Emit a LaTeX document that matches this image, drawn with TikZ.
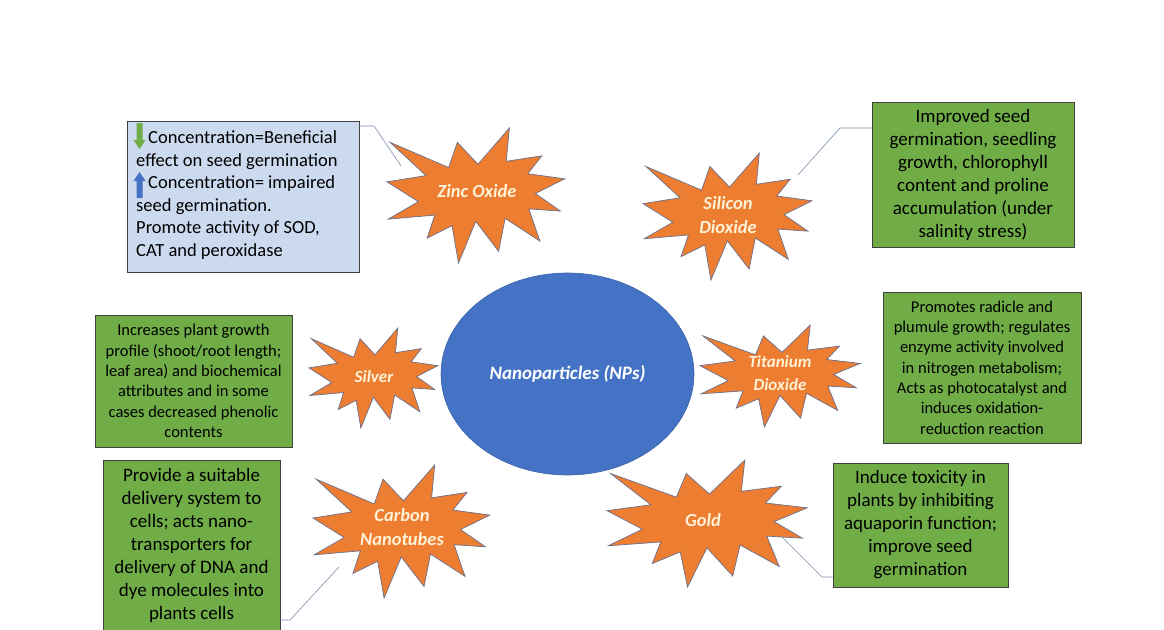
\documentclass[tikz,border=0pt]{standalone}
\usepackage{fontspec}
\setmainfont{Carlito}
\usetikzlibrary{shapes.geometric}
\definecolor{orng}{HTML}{ED7D31}
\definecolor{sealedge}{HTML}{6A6F8E}
\definecolor{grn}{HTML}{70AD47}
\definecolor{boxedge}{HTML}{3F3F3F}
\definecolor{lblue}{HTML}{CCDAEF}
\definecolor{npblue}{HTML}{4472C4}
\definecolor{npedge}{HTML}{3A62A8}
\definecolor{cream}{HTML}{FFF2D6}
\definecolor{linkc}{HTML}{7A8DB0}
\newcommand{\sealshape}[5]{%
  \begin{scope}[shift={(#2,#3)}, x=#4pt, y=-#5pt]
    \draw[seal] (0.5000,0.2685) -- (0.6723,0) -- (0.6553,0.2465) -- (0.8509,0.2063)
      -- (0.7732,0.3387) -- (0.9767,0.3767) -- (0.8151,0.4850) -- (0.9529,0.6153)
      -- (0.7795,0.5992) -- (0.8400,0.8377) -- (0.6491,0.6693) -- (0.6133,0.9137)
      -- (0.4876,0.6914) -- (0.3928,1.0000) -- (0.3572,0.7235) -- (0.2205,0.8156)
      -- (0.2624,0.6452) -- (0.0063,0.6753) -- (0.1723,0.5451) -- (0,0.3988)
      -- (0.2142,0.3526) -- (0.0171,0.1063) -- (0.3385,0.2926) -- (0.3867,0.1063)
      -- cycle;
    \coordinate (#1) at (0.5,0.5);
  \end{scope}}
\begin{document}
\begin{tikzpicture}[x=1pt,y=-1pt,
  seal/.style={fill=orng, draw=sealedge, line width=0.7pt, line join=miter},
  gbox/.style={draw=boxedge, fill=grn, line width=0.9pt, inner sep=0pt, align=center, text=black},
  bigtxt/.style={font=\fontsize{19}{23}\selectfont},
  smalltxt/.style={font=\fontsize{16.5}{20.3}\selectfont},
  lbl/.style={text=cream, font=\fontsize{18.5}{23.5}\selectfont\bfseries\itshape, align=center, inner sep=0pt},
  link/.style={draw=linkc, line width=0.6pt}]
\useasboundingbox (0,0) rectangle (1164,629);

% central ellipse
\node (np) [ellipse, fill=npblue, draw=npedge, line width=0.6pt, minimum width=253pt, minimum height=202pt, inner sep=0pt,
  text=white, font=\fontsize{19}{23}\selectfont\bfseries\itshape] at (567.5,374) {Nanoparticles (NPs)};

% stars
\sealshape{zincc}{387}{128}{182}{135}
\sealshape{silc}{643}{153}{173}{127}
\sealshape{silvc}{309}{328}{132}{100}
\sealshape{tic}{700}{325}{164}{102}
\sealshape{cntc}{313}{465}{181}{133}
\sealshape{goldc}{607}{460}{205}{127}

\node (zinc) [lbl] at (477,191) {Zinc Oxide};
\node (sil) [lbl] at (728,215) {Silicon\\Dioxide};
\node (silv) [lbl, font=\fontsize{17}{21}\selectfont\bfseries\itshape] at (374,377) {Silver};
\node (ti) [lbl, font=\fontsize{17}{22.5}\selectfont\bfseries\itshape] at (780,373) {Titanium\\Dioxide};
\node (cnt) [lbl] at (402,527) {Carbon\\Nanotubes};
\node (gold) [lbl] at (703,520) {Gold};

% zinc box
\node (zincbox) [draw=boxedge, fill=lblue, line width=0.9pt, minimum width=232pt, minimum height=151pt, inner sep=0pt] at (243,196.5) {};
\node (zinctxt) [anchor=west, align=left, inner sep=0pt, font=\fontsize{18.5}{22.5}\selectfont] at (136,195)
  {\hspace*{12pt}Concentration=Beneficial\\effect on seed germination\\\hspace*{12pt}Concentration= impaired\\seed germination.\\Promote activity of SOD,\\CAT and peroxidase};
\fill[grn] (136.5,123) -- (142.5,123) -- (142.5,140) -- (145.5,140) -- (139.5,149) -- (133.5,140) -- (136.5,140) -- cycle;
\fill[npblue] (136.5,198) -- (142.5,198) -- (142.5,181) -- (145.5,181) -- (139.5,172) -- (133.5,181) -- (136.5,181) -- cycle;

% green boxes
\node (silbox) [gbox, bigtxt, minimum width=202pt, minimum height=145pt] at (973,174.5)
  {Improved seed\\germination, seedling\\growth, chlorophyll\\content and proline\\accumulation (under\\salinity stress)};
\node (silvbox) [gbox, smalltxt, minimum width=197pt, minimum height=132pt] at (193.5,381)
  {Increases plant growth\\profile (shoot/root length;\\leaf area) and biochemical\\attributes and in some\\cases decreased phenolic\\contents};
\node (tibox) [gbox, smalltxt, minimum width=198pt, minimum height=151pt] at (982,367.5)
  {Promotes radicle and\\plumule growth; regulates\\enzyme activity involved\\in nitrogen metabolism;\\Acts as photocatalyst and\\induces oxidation-\\reduction reaction};
\node (cntbox) [gbox, bigtxt, minimum width=177pt, minimum height=170pt] at (191.5,545)
  {Provide a suitable\\delivery system to\\cells; acts nano-\\transporters for\\delivery of DNA and\\dye molecules into\\plants cells};
\node (goldbox) [gbox, bigtxt, minimum width=175pt, minimum height=124pt] at (920.5,525)
  {Induce toxicity in\\plants by inhibiting\\aquaporin function;\\improve seed\\germination};

% connectors
\coordinate (z1) at (374,126);
\coordinate (z2) at (401,166);
\draw[link] (zincbox.east |- z1) -- (z1) -- (z2);
\coordinate (s1) at (840,128);
\coordinate (s2) at (798,175);
\draw[link] (silbox.west |- s1) -- (s1) -- (s2);
\coordinate (c1) at (290,620);
\coordinate (c2) at (339,567);
\draw[link] (cntbox.east |- c1) -- (c1) -- (c2);
\coordinate (g1) at (782,537);
\coordinate (g2) at (822,577);
\draw[link] (g1) -- (g2) -- (goldbox.west |- g2);
\end{tikzpicture}
\end{document}
